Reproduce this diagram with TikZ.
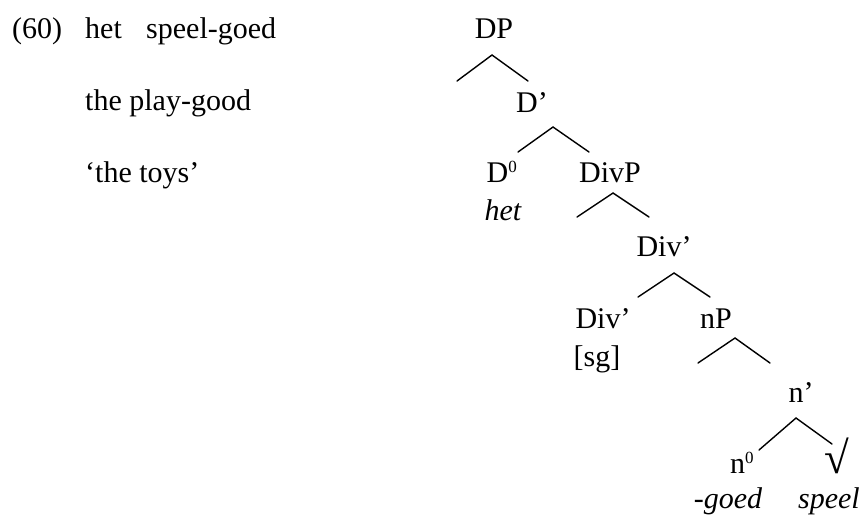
\documentclass[tikz,border=0pt]{standalone}
\usepackage{fontspec}
\setmainfont{Liberation Serif}
\newcommand{\supzero}{\textsuperscript{\fontsize{17}{17}\selectfont 0}}
\begin{document}
\begin{tikzpicture}[x=1pt,y=-1pt,
  lbl/.style={inner sep=0pt,anchor=base,font=\fontsize{30}{36}\selectfont},
  txt/.style={inner sep=0pt,anchor=base west,font=\fontsize{30}{36}\selectfont},
  branch/.style={line width=1.4pt,line cap=round}]
\useasboundingbox (0,0) rectangle (865,517);
% example text
\node[txt] (num) at (12,38) {(60)};
\node[txt] (w1) at (85,38) {het};
\node[txt] (w2) at (146,38) {speel-goed};
\node[txt] (gl) at (85,110) {the play-good};
\node[txt] (tr) at (85,182) {‘the toys’};
% tree labels
\node[lbl] (DP) at (494,38) {DP};
\node[lbl] (Dbar) at (532,112) {D’};
\node[lbl] (D0) at (502,182) {D\supzero};
\node[lbl] (het) at (503,220) {\itshape het};
\node[lbl] (DivP) at (610,182) {DivP};
\node[lbl] (Divbar) at (664,256) {Div’};
\node[lbl] (Div0) at (603,328) {Div’};
\node[lbl] (sg) at (597,366) {[sg]};
\node[lbl] (nP) at (716,328) {nP};
\node[lbl] (nbar) at (801,402) {n’};
\node[lbl] (n0) at (742,473) {n\supzero};
\node[lbl] (goed) at (728,508) {\itshape -goed};
\node[lbl] (root) at (837,473) {\scalebox{1.5}{√}};
\node[lbl,anchor=base east] (speel) at (860,508) {\itshape speel};
% branch points
\coordinate (a1) at (492,55);  \coordinate (l1) at (457,81);  \coordinate (r1) at (528,81);
\coordinate (a2) at (553,127); \coordinate (l2) at (518,152); \coordinate (r2) at (589,152);
\coordinate (a3) at (613,193); \coordinate (l3) at (577,217); \coordinate (r3) at (649,217);
\coordinate (a4) at (674,273); \coordinate (l4) at (638,297); \coordinate (r4) at (710,297);
\coordinate (a5) at (735,338); \coordinate (l5) at (698,363); \coordinate (r5) at (770,363);
\coordinate (a6) at (796,418); \coordinate (l6) at (759,450); \coordinate (r6) at (832,444);
\foreach \i in {1,...,6}{
  \draw[branch] (l\i) -- (a\i) -- (r\i);
}
\end{tikzpicture}
\end{document}
